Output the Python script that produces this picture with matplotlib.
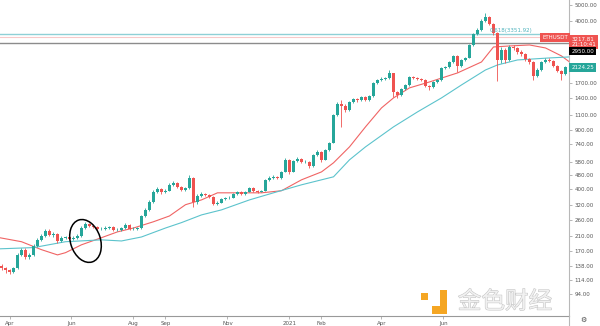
import numpy as np
import matplotlib.pyplot as plt
import matplotlib.patheffects as pe
from matplotlib.patches import Ellipse, Rectangle
from matplotlib.lines import Line2D
from matplotlib.transforms import ScaledTranslation
from matplotlib.ticker import NullLocator

# ETHUSDT candles, one per slot (open = previous close)
first_open = 138
closes = [134, 131, 127, 134, 161, 173, 157, 161, 182, 198,
          209, 224, 212, 215, 195, 204, 206, 201, 204, 209,
          233, 247, 241, 237, 230, 231, 233, 237, 227, 228,
          233, 244, 230, 231, 233, 275, 299, 334, 383, 399,
          383, 389, 422, 434, 410, 394, 405, 465, 334, 363,
          373, 368, 358, 325, 330, 348, 353, 354, 373, 383,
          373, 383, 405, 389, 383, 389, 452, 465, 471, 465,
          504, 595, 504, 587, 603, 579, 580, 547, 637, 664,
          595, 682, 751, 1103, 1283, 1249, 1182, 1319, 1375, 1356,
          1413, 1356, 1432, 1713, 1785, 1810, 1835, 1965, 1514, 1452,
          1578, 1666, 1859, 1835, 1810, 1785, 1643, 1621, 1736, 1785,
          2104, 2120, 2285, 2482, 2163, 2349, 2415, 2886, 3357, 3547,
          4014, 4239, 3852, 3404, 2349, 2695, 2349, 2807, 2770, 2622,
          2551, 2381, 2285, 1885, 2047, 2285, 2349, 2317, 2163, 2019,
          1937, 2124.25]
highs = [142, 137, 133, 137, 165, 178, 176, 166, 186, 203,
         214, 229, 230, 220, 218, 208, 209, 210, 208, 214,
         238, 252, 250, 245, 240, 235, 238, 241, 239, 232,
         237, 248, 246, 235, 237, 280, 305, 341, 392, 410,
         405, 396, 430, 443, 438, 414, 412, 485, 470, 370,
         380, 378, 372, 360, 337, 354, 359, 360, 379, 390,
         388, 389, 412, 409, 393, 395, 460, 474, 480, 478,
         512, 607, 600, 597, 615, 610, 590, 585, 648, 678,
         670, 695, 765, 1120, 1310, 1356, 1275, 1340, 1400, 1395,
         1440, 1425, 1455, 1740, 1820, 1850, 1870, 2040, 1975, 1540,
         1600, 1690, 1885, 1890, 1860, 1830, 1800, 1670, 1760, 1810,
         2140, 2150, 2320, 2530, 2500, 2380, 2450, 2930, 3420, 3620,
         4100, 4480, 4300, 3900, 3450, 2800, 2760, 2880, 2900, 2810,
         2680, 2600, 2420, 2320, 2100, 2330, 2400, 2420, 2350, 2200,
         2050, 2160]
lows = [130, 126, 123, 125, 132, 158, 152, 153, 159, 179,
        195, 206, 208, 207, 190, 192, 199, 197, 198, 201,
        207, 230, 236, 232, 226, 226, 228, 230, 224, 223,
        225, 231, 227, 227, 228, 231, 271, 296, 330, 375,
        372, 378, 385, 415, 402, 385, 388, 400, 310, 325,
        355, 360, 350, 318, 320, 327, 343, 347, 350, 368,
        367, 369, 380, 384, 377, 380, 385, 447, 458, 457,
        460, 500, 490, 500, 578, 570, 568, 535, 542, 628,
        575, 590, 675, 745, 1090, 940, 1150, 1170, 1300, 1320,
        1340, 1330, 1345, 1420, 1690, 1760, 1790, 1820, 1420, 1400,
        1440, 1560, 1650, 1810, 1780, 1750, 1620, 1560, 1600, 1720,
        1770, 2070, 2100, 2260, 2000, 2120, 2320, 2400, 2860, 3320,
        3500, 3950, 3780, 3330, 1750, 2250, 2250, 2300, 2700, 2560,
        2480, 2330, 2230, 1780, 1850, 2020, 2250, 2270, 2120, 1980,
        1780, 1910]

# moving averages, read at a few candle slots
red_ma_idx = [-0.5, 5, 10, 14, 16, 20, 25, 29, 33, 38, 42, 46, 50, 54, 60, 65, 70,
              75, 80, 83, 87, 91, 95, 98, 102, 107, 114, 120, 123, 127, 132, 136, 140, 142]
red_ma = [204, 193, 173, 161, 166, 185, 204, 221, 233, 254, 275, 321, 343, 378, 378, 378, 389,
          452, 504, 571, 711, 936, 1215, 1394, 1600, 1736, 1965, 2285, 2808, 2847, 2886, 2770, 2482, 2285]
teal_ma_idx = [-0.5, 8, 16, 25, 30, 35, 41, 45, 50, 55, 62, 68, 75, 83, 87, 91, 98,
               104, 110, 115, 121, 124, 129, 137, 142]
teal_ma = [175, 178, 193, 198, 195, 206, 233, 251, 279, 299, 343, 378, 422, 471, 595, 711, 936,
           1150, 1394, 1666, 2047, 2193, 2349, 2415, 2449]

# levels and axis text
fib_level = 3351.92
last_price = 3217.81
alert_level = 2950.0
last_close = 2124.25
price_ticks = [5000, 4000, 1700, 1400, 1100, 900, 740, 580, 480, 400, 320, 260, 210, 170, 138, 114, 94]
month_pos = [2, 17.5, 33, 41, 56.5, 72, 80, 95, 110.5]
month_labels = ['Apr', 'Jun', 'Aug', 'Sep', 'Nov', '2021', 'Feb', 'Apr', 'Jun']

UP = '#26a69a'
DOWN = '#ef5350'
AXC = '#b8b8b8'

fig = plt.figure(figsize=(6, 3.26), dpi=100)
ax = fig.add_axes([0, 10 / 326, 569 / 600, 316 / 326])
ax.set_yscale('log')

o = np.array([first_open] + closes[:-1], dtype=float)
c = np.array(closes, dtype=float)
x = np.arange(len(c))
cols = np.where(c >= o, UP, DOWN)

# wicks then bodies
ax.vlines(x, lows, highs, colors=cols, lw=0.6, zorder=3)
ax.bar(x, np.abs(c - o), bottom=np.minimum(o, c), width=0.6, color=cols, zorder=4)

# moving averages
ax.plot(red_ma_idx, red_ma, color='#f06464', lw=0.8, zorder=2)
ax.plot(teal_ma_idx, teal_ma, color='#5cc3cc', lw=0.8, zorder=2)

# horizontal levels
ax.axhline(fib_level, color='#8fd0d6', lw=1.0, zorder=1)
ax.axhline(last_price, color='#f7c9c9', lw=0.8, zorder=1)
ax.axhline(alert_level, color='#8c8c8c', lw=1.0, zorder=1)
ax.text(122, fib_level * 1.01, '0.618(3351.92)', color='#4fb3bd', fontsize=4,
        va='bottom', ha='left', zorder=5)

ax.set_xlim(-0.375, 141.875)
ax.set_ylim(69.5, 5356)

# axes styling like the trading view screenshot
for s in ['top', 'left']:
    ax.spines[s].set_visible(False)
ax.spines['right'].set_color(AXC)
ax.spines['bottom'].set_color('#999999')
ax.spines['right'].set_linewidth(0.8)
ax.spines['bottom'].set_linewidth(0.8)

ax.yaxis.tick_right()
ax.yaxis.set_minor_locator(NullLocator())
ax.set_yticks(price_ticks)
ax.set_yticklabels(['%.2f' % t for t in price_ticks])
ax.tick_params(axis='y', length=2.5, width=0.5, color='#999999', labelsize=4,
               labelcolor='#555555', pad=1.5)
ax.set_xticks(month_pos)
ax.set_xticklabels(month_labels)
ax.tick_params(axis='x', length=2, width=0.5, color='#999999', labelsize=4,
               labelcolor='#555555', pad=1.5)

# price boxes on the scale
ytr = ax.get_yaxis_transform()
box = dict(boxstyle='square,pad=0.35', lw=0)
ax.text(0.998, last_price, 'ETHUSDT', transform=ytr, ha='right', va='center', fontsize=4,
        color='white', bbox=dict(box, fc=DOWN), zorder=6)
ax.text(1.004, last_price, '3217.81\n21:10:41', transform=ytr, ha='left', va='top',
        fontsize=4, color='white', linespacing=1.1, bbox=dict(box, fc=DOWN), clip_on=False,
        zorder=6)
ax.annotate('2950.00', xy=(1.004, alert_level), xycoords=ytr, xytext=(0, -5.5),
            textcoords='offset points', ha='left', va='center', fontsize=4, color='white',
            bbox=dict(box, fc='black'), annotation_clip=False, zorder=6)
ax.text(1.004, last_close, '2124.25', transform=ytr, ha='left', va='center', fontsize=4,
        color='white', bbox=dict(box, fc=UP), clip_on=False, zorder=6)

# hand drawn ellipse around the breakout
trans = fig.dpi_scale_trans + ScaledTranslation(21, 195, ax.transData)
ax.add_patch(Ellipse((0, 0), 0.30, 0.44, angle=18, transform=trans, fill=False,
                     ec='black', lw=1.1, zorder=7, clip_on=False))

# bottom strip: scale separator and settings gear
fig.add_artist(Line2D([569 / 600, 569 / 600], [0, 10 / 326], color=AXC, lw=0.8))
fig.text(583 / 600, 6 / 326, '\u2699', fontsize=5, color='#444444', ha='center', va='center')

# watermark
fig.add_artist(Rectangle((421 / 600, 26 / 326), 7 / 600, 7 / 326, color='#f5a623', lw=0))
fig.add_artist(Rectangle((432 / 600, 12 / 326), 15 / 600, 24 / 326, color='#f5a623', lw=0))
fig.add_artist(Rectangle((432 / 600, 20 / 326), 8 / 600, 16 / 326, color='white', lw=0))
fig.text(505 / 600, 24 / 326, '金色财经', fontsize=17, family=['Noto Sans CJK SC', 'DejaVu Sans'],
         color='#f2f2f2', ha='center', va='center', alpha=0.9,
         path_effects=[pe.withStroke(linewidth=0.7, foreground='#bdbdbd')])

fig.savefig('out.png', dpi=100)
